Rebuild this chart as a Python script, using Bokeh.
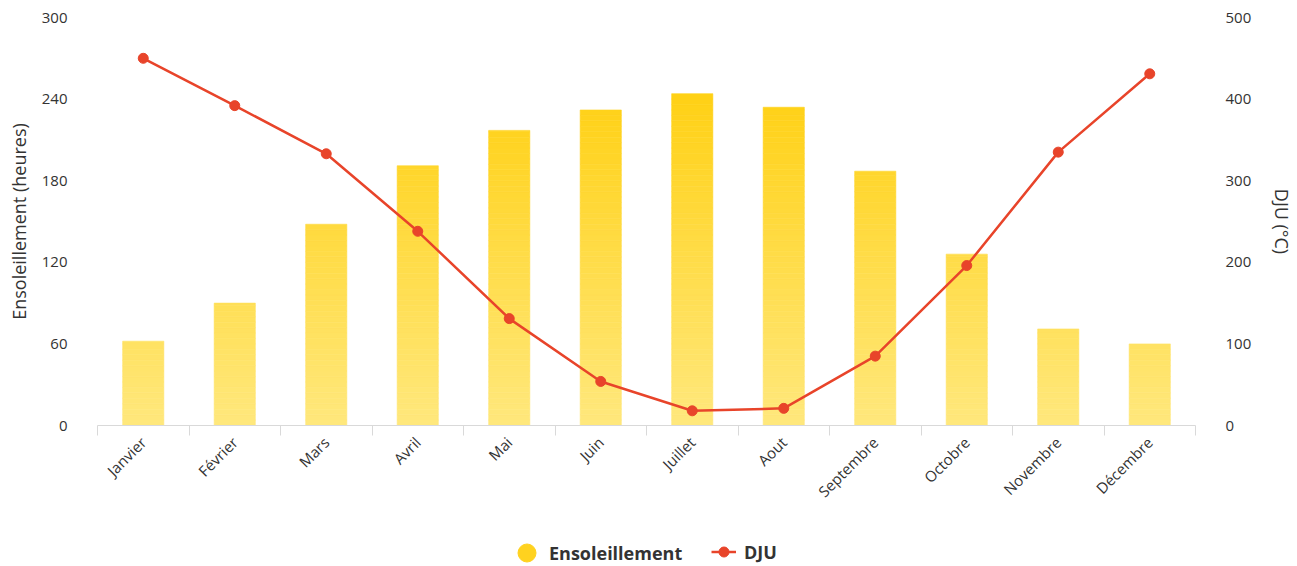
import numpy as np
from bokeh.plotting import figure
from bokeh.layouts import column
from bokeh.models import Range1d, LinearAxis, FixedTicker, ColumnDataSource, Legend, LegendItem
from bokeh.embed import file_html
from bokeh.resources import INLINE

months = ["Janvier", "Février", "Mars", "Avril", "Mai", "Juin", "Juillet", "Aout",
          "Septembre", "Octobre", "Novembre", "Décembre"]
sunshine = [62, 90, 148, 191, 217, 232, 244, 234, 187, 126, 71, 60]
dju = [450, 392, 333, 238, 131, 54, 18, 21, 85, 196, 335, 431]
left_ticks = [0, 60, 120, 180, 240, 300]
right_ticks = [0, 100, 200, 300, 400, 500]

FONT = "Open Sans"
n = len(months)
xc = np.arange(n) + 0.5
BAR = "#ffd21f"
LINE = "#e8442a"
TXT = "#333333"

p = figure(width=1297, height=520, output_backend="svg", toolbar_location=None,
           x_range=Range1d(0, n), y_range=Range1d(0, 300),
           min_border_left=97, min_border_right=102, min_border_top=17, min_border_bottom=95)
p.outline_line_color = None
p.grid.visible = False
p.background_fill_color = "white"
p.border_fill_color = "white"

# gradient bars: slice the bars into bands coloured by absolute height
band = 4.0
top_rgb = np.array([255, 208, 18])
bot_rgb = np.array([255, 232, 125])
xs, bots, tops, cols = [], [], [], []
for i, v in enumerate(sunshine):
    b = 0.0
    while b < v:
        t = min(v, b + band)
        f = min(1.0, ((b + t) / 2) / 250.0)
        c = bot_rgb + (top_rgb - bot_rgb) * f
        xs.append(xc[i]); bots.append(b); tops.append(t)
        cols.append("#%02x%02x%02x" % tuple(int(round(k)) for k in c))
        b = t
src = ColumnDataSource(dict(x=xs, bottom=bots, top=tops, color=cols))
p.vbar(x="x", bottom="bottom", top="top", width=0.45, fill_color="color",
       line_color="color", line_width=0.6, source=src)

# secondary axis
p.extra_y_ranges = {"dju": Range1d(0, 500)}
p.line(xc, dju, y_range_name="dju", line_color=LINE, line_width=2.5)
p.scatter(xc, dju, y_range_name="dju", size=10, fill_color=LINE, line_color=LINE)

# axes
xa = p.xaxis[0]
xa.ticker = FixedTicker(ticks=list(xc), minor_ticks=list(np.arange(n + 1)))
xa.major_label_overrides = {float(x): m for x, m in zip(xc, months)}
xa.major_label_orientation = np.pi / 4
xa.major_tick_line_color = None
xa.minor_tick_line_color = "#d9d9d9"
xa.minor_tick_out = 10
xa.minor_tick_in = 0
xa.axis_line_color = "#d9d9d9"
xa.major_label_text_font = FONT
xa.major_label_text_font_size = "15px"
xa.major_label_text_color = TXT
xa.major_label_standoff = 4

ya = p.yaxis[0]
ya.ticker = FixedTicker(ticks=left_ticks)
ya.axis_line_color = None
ya.major_tick_line_color = None
ya.minor_tick_line_color = None
ya.major_label_standoff = 24
ya.major_label_text_font = FONT
ya.major_label_text_font_size = "15px"
ya.major_label_text_color = TXT
ya.axis_label = "Ensoleillement (heures)"
ya.axis_label_text_font = FONT
ya.axis_label_text_font_size = "18px"
ya.axis_label_text_font_style = "normal"
ya.axis_label_text_color = TXT
ya.axis_label_standoff = 8

ra = LinearAxis(y_range_name="dju", ticker=FixedTicker(ticks=right_ticks))
ra.axis_line_color = None
ra.major_tick_line_color = None
ra.minor_tick_line_color = None
ra.major_label_standoff = 24
ra.major_label_text_font = FONT
ra.major_label_text_font_size = "15px"
ra.major_label_text_color = TXT
ra.axis_label = "DJU (°C)"
ra.axis_label_text_font = FONT
ra.axis_label_text_font_size = "18px"
ra.axis_label_text_font_style = "normal"
ra.axis_label_text_color = TXT
ra.axis_label_standoff = 16
p.add_layout(ra, "right")

# legend in a small strip figure below
lf = figure(width=1297, height=46, output_backend="svg", toolbar_location=None,
            x_range=Range1d(0, 1), y_range=Range1d(0, 1),
            min_border=0, min_border_left=0, min_border_right=0, min_border_top=0, min_border_bottom=0)
lf.axis.visible = False
lf.grid.visible = False
lf.outline_line_color = None
lf.border_fill_color = "white"
d_sun = lf.scatter(x=[0.5], y=[np.nan], size=18, fill_color=BAR, line_color=BAR)
d_ln = lf.line(x=[0.5, 0.6], y=[np.nan, np.nan], line_color=LINE, line_width=2.5)
d_mk = lf.scatter(x=[0.5], y=[np.nan], size=10, fill_color=LINE, line_color=LINE)
common = dict(orientation="horizontal", border_line_color=None, background_fill_alpha=0,
              label_text_font=FONT, label_text_font_size="18px",
              label_text_font_style="bold", label_text_color=TXT,
              padding=0, margin=0, spacing=0)
leg1 = Legend(items=[LegendItem(label="Ensoleillement", renderers=[d_sun])],
              location=(407, -9), glyph_width=45, glyph_height=45, label_standoff=-4,
              **common)
leg2 = Legend(items=[LegendItem(label="DJU", renderers=[d_ln, d_mk])],
              location=(614, 2), glyph_width=25, glyph_height=25, label_standoff=8,
              **common)
lf.add_layout(leg1, "center")
lf.add_layout(leg2, "center")

open("out.html", "w").write(file_html(column(p, lf), INLINE))
